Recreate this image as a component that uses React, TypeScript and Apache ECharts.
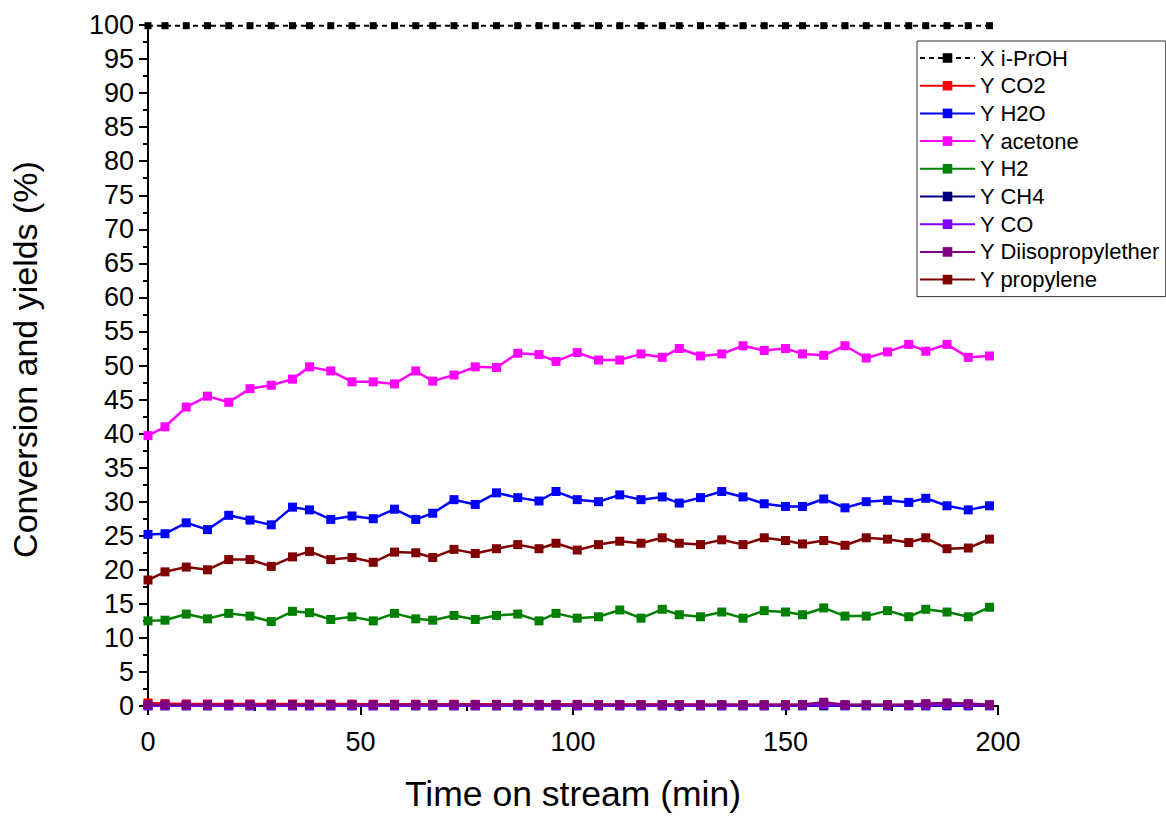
import React, { useEffect, useRef } from "react";
import * as echarts from "echarts";

const times = [0, 4, 9, 14, 19, 24, 29, 34, 38, 43, 48, 53, 58, 63, 67, 72, 77, 82, 87, 92, 96, 101, 106, 111, 116, 121, 125, 130, 135, 140, 145, 150, 154, 159, 164, 169, 174, 179, 183, 188, 193, 198];

const xIPrOH = [99.9, 99.9, 99.9, 99.9, 99.9, 99.9, 99.9, 99.9, 99.9, 99.9, 99.9, 99.9, 99.9, 99.9, 99.9, 99.9, 99.9, 99.9, 99.9, 99.9, 99.9, 99.9, 99.9, 99.9, 99.9, 99.9, 99.9, 99.9, 99.9, 99.9, 99.9, 99.9, 99.9, 99.9, 99.9, 99.9, 99.9, 99.9, 99.9, 99.9, 99.9, 99.9];

const yCO2 = [0.45, 0.35, 0.3, 0.3, 0.3, 0.3, 0.3, 0.3, 0.28, 0.28, 0.28, 0.27, 0.27, 0.27, 0.26, 0.26, 0.25, 0.25, 0.25, 0.24, 0.24, 0.24, 0.23, 0.23, 0.23, 0.22, 0.22, 0.2, 0.2, 0.2, 0.18, 0.18, 0.17, 0.17, 0.16, 0.16, 0.15, 0.15, 0.15, 0.14, 0.14, 0.14];

const yH2O = [25.2, 25.3, 26.9, 25.9, 28.0, 27.3, 26.6, 29.2, 28.8, 27.4, 27.9, 27.5, 28.9, 27.4, 28.3, 30.3, 29.6, 31.3, 30.6, 30.1, 31.5, 30.3, 30.0, 31.0, 30.3, 30.7, 29.8, 30.6, 31.5, 30.7, 29.7, 29.3, 29.3, 30.4, 29.1, 30.0, 30.2, 29.9, 30.5, 29.4, 28.8, 29.4];

const yAcetone = [39.7, 41.0, 43.9, 45.5, 44.6, 46.6, 47.1, 48.0, 49.8, 49.2, 47.6, 47.6, 47.3, 49.2, 47.7, 48.6, 49.8, 49.7, 51.8, 51.6, 50.6, 51.9, 50.8, 50.8, 51.7, 51.2, 52.5, 51.4, 51.7, 52.9, 52.2, 52.5, 51.7, 51.5, 52.9, 51.1, 52.0, 53.1, 52.1, 53.1, 51.2, 51.4];

const yH2 = [12.5, 12.6, 13.5, 12.8, 13.6, 13.2, 12.4, 13.9, 13.7, 12.7, 13.1, 12.5, 13.6, 12.8, 12.6, 13.3, 12.7, 13.3, 13.5, 12.5, 13.6, 12.9, 13.1, 14.1, 12.9, 14.2, 13.4, 13.1, 13.8, 12.9, 14.0, 13.8, 13.4, 14.4, 13.2, 13.2, 14.0, 13.1, 14.2, 13.8, 13.1, 14.5];

const yCH4 = [0.02, 0.02, 0.02, 0.02, 0.02, 0.02, 0.02, 0.02, 0.02, 0.02, 0.02, 0.02, 0.02, 0.02, 0.02, 0.02, 0.02, 0.02, 0.02, 0.02, 0.02, 0.02, 0.02, 0.02, 0.02, 0.02, 0.02, 0.02, 0.02, 0.02, 0.02, 0.02, 0.02, 0.02, 0.02, 0.02, 0.02, 0.02, 0.02, 0.02, 0.02, 0.02];

const yCO = [0.05, 0.05, 0.05, 0.05, 0.05, 0.05, 0.05, 0.05, 0.05, 0.05, 0.05, 0.05, 0.05, 0.05, 0.05, 0.05, 0.05, 0.05, 0.05, 0.05, 0.05, 0.05, 0.05, 0.05, 0.05, 0.05, 0.05, 0.05, 0.05, 0.05, 0.06, 0.08, 0.1, 0.2, 0.1, 0.1, 0.1, 0.1, 0.15, 0.2, 0.15, 0.1];

const yDIPE = [0.2, 0.2, 0.2, 0.2, 0.2, 0.2, 0.2, 0.2, 0.2, 0.2, 0.2, 0.2, 0.2, 0.2, 0.2, 0.2, 0.2, 0.2, 0.2, 0.2, 0.2, 0.2, 0.2, 0.2, 0.2, 0.2, 0.2, 0.2, 0.2, 0.2, 0.2, 0.2, 0.22, 0.55, 0.2, 0.2, 0.2, 0.2, 0.35, 0.45, 0.35, 0.2];

const yPropylene = [18.5, 19.7, 20.4, 20.0, 21.5, 21.5, 20.5, 21.9, 22.7, 21.5, 21.8, 21.1, 22.6, 22.5, 21.8, 23.0, 22.4, 23.1, 23.7, 23.1, 23.9, 22.9, 23.7, 24.2, 23.9, 24.7, 23.9, 23.7, 24.4, 23.7, 24.7, 24.3, 23.8, 24.3, 23.6, 24.7, 24.5, 24.0, 24.7, 23.1, 23.2, 24.5];

const seriesNames = ["X i-PrOH", "Y CO2", "Y H2O", "Y acetone", "Y H2", "Y CH4", "Y CO", "Y Diisopropylether", "Y propylene"];
const seriesColors = ["#000000", "#FF0000", "#0000FF", "#FF00FF", "#008000", "#000080", "#8000FF", "#800080", "#800000"];
const seriesData = [xIPrOH, yCO2, yH2O, yAcetone, yH2, yCH4, yCO, yDIPE, yPropylene];

const FONT = "'Liberation Sans', Arial, sans-serif";

export default function App() {
  const ref = useRef<HTMLDivElement>(null);
  useEffect(() => {
    if (!ref.current) return;
    const chart = echarts.init(ref.current, null, { renderer: "svg" });
    const series = seriesNames.map((name, i) => ({
      name,
      type: "line",
      data: seriesData[i].map((v, j) => [times[j], v]),
      symbol: "rect",
      symbolSize: i === 0 ? 7 : 9,
      clip: false,
      lineStyle: { color: seriesColors[i], width: i === 0 ? 2 : 2.5, type: i === 0 ? [5, 4] : "solid" },
      itemStyle: { color: seriesColors[i] },
      z: 2 + i,
    }));
    chart.setOption({
      animation: false,
      backgroundColor: "#ffffff",
      textStyle: { fontFamily: FONT },
      grid: { left: 148, top: 25, right: 168, bottom: 107, containLabel: false },
      xAxis: {
        type: "value",
        min: 0,
        max: 200,
        interval: 50,
        name: "Time on stream (min)",
        nameLocation: "middle",
        nameGap: 70,
        nameTextStyle: { fontSize: 35.5, color: "#000", fontFamily: FONT },
        axisLine: { show: true, lineStyle: { color: "#000", width: 2 } },
        axisTick: { show: true, inside: false, length: 9, lineStyle: { color: "#000", width: 2 } },
        minorTick: { show: true, splitNumber: 2, length: 5, lineStyle: { color: "#000", width: 2 } },
        axisLabel: { fontSize: 27, color: "#000", margin: 22, fontFamily: FONT },
        splitLine: { show: false },
      },
      yAxis: {
        type: "value",
        min: 0,
        max: 100,
        interval: 5,
        name: "Conversion and yields (%)",
        nameLocation: "middle",
        nameGap: 106,
        nameTextStyle: { fontSize: 34, color: "#000", fontFamily: FONT, padding: [0, 0, 0, 12] },
        axisLine: { show: true, lineStyle: { color: "#000", width: 2 } },
        axisTick: { show: true, inside: false, length: 9, lineStyle: { color: "#000", width: 2 } },
        minorTick: { show: true, splitNumber: 2, length: 5, lineStyle: { color: "#000", width: 2 } },
        axisLabel: { fontSize: 27, color: "#000", margin: 14, fontFamily: FONT },
        splitLine: { show: false },
      },
      legend: {
        orient: "vertical",
        left: 917,
        top: 41,
        padding: [6, 6, 6, 2],
        itemWidth: 55,
        itemHeight: 12,
        itemGap: 5.7,
        borderColor: "#333",
        borderWidth: 1,
        borderRadius: 0,
        textStyle: { fontSize: 22, color: "#000", fontFamily: FONT },
        data: seriesNames,
      },
      series,
    });
    return () => chart.dispose();
  }, []);
  return <div ref={ref} style={{ position: "fixed", left: 0, top: 0, width: 1166, height: 817 }} />;
}
